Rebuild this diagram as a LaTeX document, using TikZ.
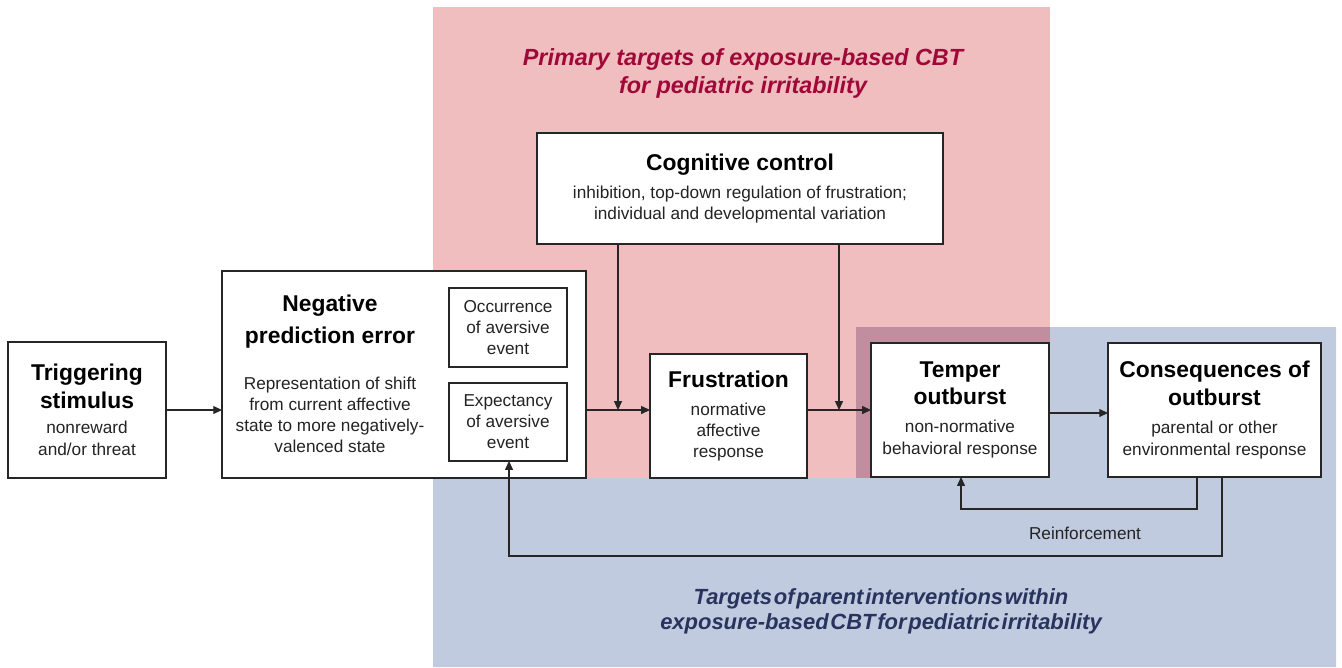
\documentclass[tikz,border=0pt]{standalone}
\usepackage{fontspec}
\setmainfont{Liberation Sans}
\usetikzlibrary{arrows.meta}
\definecolor{pinkbg}{RGB}{240,190,190}
\definecolor{bluebg}{RGB}{192,203,223}
\definecolor{mixbg}{RGB}{192,142,158}
\definecolor{redtitle}{RGB}{160,8,58}
\definecolor{bluetitle}{RGB}{40,52,94}
\definecolor{txtgray}{RGB}{35,35,35}
\newcommand\ttl{\fontsize{13}{15.5}\selectfont\bfseries\color{black}}
\newcommand\subt{\fontsize{9.8}{12.2}\selectfont\mdseries\color{txtgray}}
\newcommand\ptl{\fontsize{13.3}{16}\selectfont\bfseries\itshape}
\newcommand\btl{\fontsize{12.5}{14.2}\selectfont\bfseries\itshape\spaceskip=0.08em\relax}
\begin{document}
\begin{tikzpicture}[x=0.02cm,y=-0.02cm,
  box/.style={draw=black!85,line width=0.8pt,fill=white,inner sep=0pt,outer sep=0pt,align=center},
  arr/.style={draw=black!85,line width=0.6pt,-{Triangle[length=5pt,width=4.5pt]}},
  plain/.style={inner sep=0pt,outer sep=0pt,align=center}]
\useasboundingbox (0,0) rectangle (1342,667);
\fill[white] (0,0) rectangle (1342,667);
% background regions
\fill[pinkbg] (433,7) rectangle (1050,478);
\fill[bluebg] (433,478) -- (856,478) -- (856,327) -- (1336,327) -- (1336,667) -- (433,667) -- cycle;
\fill[mixbg] (856,327) rectangle (1050,478);
% titles
\node[plain,text=redtitle] (ptitle) at (743,73.5) {\ptl Primary targets of exposure-based CBT\\[2.8pt]\ptl for pediatric irritability};
\node[plain,text=bluetitle] (btitle) at (881,611) {\btl Targets of parent interventions within\\[2.3pt]\btl exposure-based CBT for pediatric irritability};
% boxes
\node[box,minimum width=3.16cm,minimum height=2.72cm] (trig) at (87,410)
  {\ttl Triggering\\[2.3pt]\ttl stimulus\\[2.5pt]\subt nonreward\\[0.5pt]\subt and/or threat};
\node[box,minimum width=7.28cm,minimum height=4.14cm] (npe) at (404,374.5) {};
\node[plain] (npetext) at (330,374)
  {\ttl Negative\\[5pt]\ttl prediction error\\[13.8pt]\subt Representation of shift\\\subt from current  affective\\\subt state to more negatively-\\\subt valenced state};
\node[box,minimum width=2.36cm,minimum height=1.58cm] (occ) at (508,327.5)
  {\subt Occurrence\\\subt of aversive\\\subt event};
\node[box,minimum width=2.36cm,minimum height=1.56cm] (exp) at (508,422)
  {\subt Expectancy\\\subt of aversive\\\subt event};
\node[box,minimum width=3.14cm,minimum height=2.48cm] (fru) at (728.5,416)
  {\ttl Frustration\\[4pt]\subt normative\\\subt affective\\\subt response};
\node[box,minimum width=3.56cm,minimum height=2.68cm] (tem) at (960,410)
  {\ttl Temper\\[2.3pt]\ttl outburst\\[4pt]\subt non-normative\\[0.5pt]\subt behavioral response};
\node[box,minimum width=4.26cm,minimum height=2.68cm] (con) at (1214.5,410)
  {\ttl Consequences of\\[2.3pt]\ttl outburst\\[4pt]\subt parental or other\\[0.5pt]\subt environmental response};
\node[box,minimum width=8.12cm,minimum height=2.22cm] (cog) at (740,188.5)
  {\ttl Cognitive control\\[3.7pt]\subt inhibition, top-down regulation of frustration;\\\subt individual and developmental variation};
% connectors
\coordinate (c1) at (618,410);
\coordinate (c2) at (839,410);
\coordinate (c3) at (1080,413);
\draw[arr] (trig.east) -- (npe.west |- trig.east);
\draw[arr] (npe.east |- c1) -- (fru.west |- c1);
\draw[arr] (cog.south -| c1) -- (c1);
\draw[arr] (fru.east |- c2) -- (tem.west |- c2);
\draw[arr] (cog.south -| c2) -- (c2);
\draw[arr] (tem.east |- c3) -- (con.west |- c3);
\coordinate (r1) at (1197,509);
\coordinate (r2) at (961,509);
\draw[arr] (con.south -| r1) -- (r1) -- (r2) -- (tem.south -| r2);
\coordinate (l1) at (1222,556);
\coordinate (l2) at (509,556);
\draw[arr] (con.south -| l1) -- (l1) -- (l2) -- (exp.south -| l2);
\node[plain] (reinf) at (1085,533) {\subt Reinforcement};
\end{tikzpicture}
\end{document}
